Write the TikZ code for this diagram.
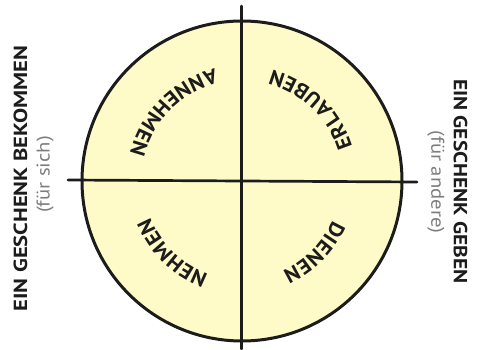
\documentclass[tikz,border=0pt]{standalone}
\usepackage{fontspec}
\setmainfont{PT Sans}
\newfontfamily\arcfont[FakeStretch=1.05]{PT Sans}
\newfontfamily\labelfont[FakeStretch=1.13]{PT Sans}
\newfontfamily\labelfontwide[FakeStretch=1.19]{PT Sans}
\newfontfamily\sublabelfont[FakeStretch=1.12]{PT Sans}
\definecolor{discfill}{RGB}{255,251,200}
\definecolor{inkcol}{RGB}{28,28,28}
\definecolor{softgray}{RGB}{125,125,125}
\newcommand\arcsize{\fontsize{21}{22}\selectfont\bfseries}
\newcommand\measureletter[1]{%
  \setbox0=\hbox{\arcfont\arcsize #1}%
  \expandafter\xdef\csname lw@#1\endcsname{\the\wd0}}
% #1 name prefix, #2 centre angle, #3 radius, #4 direction (1 ccw, -1 cw), #5 spacing, #6 letters
\newcommand\arcword[6]{%
  \xdef\awL{0}%
  \foreach \lt in {#6}{%
    \edef\lw{\csname lw@\lt\endcsname}%
    \pgfmathsetmacro\tmpsum{\awL+\lw+#5}%
    \xdef\awL{\tmpsum}%
  }%
  \pgfmathsetmacro\awLL{\awL-#5}%
  \xdef\awS{0}%
  \foreach \lt [count=\ci] in {#6}{%
    \edef\lw{\csname lw@\lt\endcsname}%
    \pgfmathsetmacro\apos{\awS+0.5*\lw-0.5*\awLL}%
    \pgfmathsetmacro\ang{#2+#4*\apos/#3*57.29578}%
    \pgfmathsetmacro\rot{\ang+#4*90}%
    \node[arcletter, rotate=\rot] (#1\ci) at (\ang:#3) {\arcfont\arcsize\lt};
    \pgfmathsetmacro\tmpsum{\awS+\lw+#5}%
    \xdef\awS{\tmpsum}%
  }%
}
\begin{document}
\measureletter{A}\measureletter{N}\measureletter{E}\measureletter{H}%
\measureletter{M}\measureletter{R}\measureletter{L}\measureletter{U}%
\measureletter{B}\measureletter{D}\measureletter{I}%
\begin{tikzpicture}[x=1pt,y=1pt,
  arcletter/.style={text=inkcol, inner sep=0pt, anchor=center},
  sidebold/.style={font=\labelfont\fontsize{19}{20}\selectfont\bfseries, text=inkcol, inner sep=0pt},
  sideboldwide/.style={font=\labelfontwide\fontsize{19}{20}\selectfont\bfseries, text=inkcol, inner sep=0pt},
  sidelight/.style={font=\sublabelfont\fontsize{18.5}{19}\selectfont, text=softgray, inner sep=0pt},
  ink/.style={draw=inkcol, line cap=round, line join=round}]
\useasboundingbox (-242,-169) rectangle (242,181);
\node[circle, draw=inkcol, fill=discfill, line width=3pt, minimum size=320pt, inner sep=0pt] (disc) at (0,0) {};
\coordinate (vtop) at (-0.3,175);
\coordinate (vbot) at (-0.3,-168);
\coordinate (hleft) at (-174,1);
\coordinate (hright) at (175,-1);
\draw[ink, line width=2.7pt] (vtop) -- (vbot);
\draw[ink, line width=2.7pt] (hleft) -- (hright);
\arcword{ann}{135}{108}{1}{1.0}{A,N,N,E,H,M,E,N}
\arcword{erl}{46}{108}{1}{1.0}{E,R,L,A,U,B,E,N}
\arcword{neh}{225.8}{106}{-1}{1.0}{N,E,H,M,E,N}
\arcword{die}{-44.6}{106}{-1}{1.0}{D,I,E,N,E,N}
\node[sideboldwide, rotate=90] (lefttitle) at (-221.5,2.5) {EIN GESCHENK BEKOMMEN};
\node[sidelight, rotate=90] (leftsub) at (-197,6.5) {(für sich)};
\node[sidebold, rotate=-90] (righttitle) at (218.5,-0.5) {EIN GESCHENK GEBEN};
\node[sidelight, rotate=-90] (rightsub) at (194,-1) {(für andere)};
\end{tikzpicture}
\end{document}
